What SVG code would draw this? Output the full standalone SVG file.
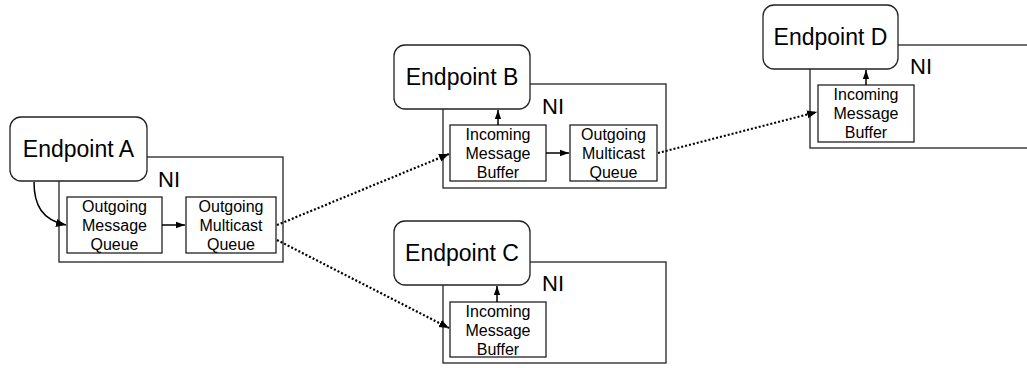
<svg xmlns="http://www.w3.org/2000/svg" width="1027" height="368" viewBox="0 0 1027 368">
<defs>
<style>
.ni{fill:none;stroke:#222;stroke-width:1.3}
.ep{fill:#fff;stroke:#222;stroke-width:1.3}
.box{fill:#fff;stroke:#222;stroke-width:1.3}
.big{font-family:"Liberation Sans",Arial,sans-serif;font-size:23px;fill:#000}
.nil{font-family:"Liberation Sans",Arial,sans-serif;font-size:22px;fill:#000}
.sm{font-family:"Liberation Sans",Arial,sans-serif;font-size:16px;fill:#000;text-anchor:middle}
.solid{fill:none;stroke:#000;stroke-width:1.5}
.dot{fill:none;stroke:#000;stroke-width:2.2;stroke-dasharray:2 2}
</style>
<marker id="ah" viewBox="0 0 10 10" refX="10" refY="5" markerWidth="10" markerHeight="10" markerUnits="userSpaceOnUse" orient="auto">
<path d="M0,1 L10,5 L0,9 z" fill="#000"/>
</marker>
<marker id="ahs" viewBox="0 0 10 10" refX="10" refY="5" markerWidth="9" markerHeight="9" markerUnits="userSpaceOnUse" orient="auto">
<path d="M0,1.5 L10,5 L0,8.5 z" fill="#000"/>
</marker>
</defs>

<g id="nodeA">
<rect class="ni" x="59" y="157" width="224" height="105"/>
<rect class="ep" x="10" y="117" width="137" height="64" rx="11"/>
<text class="big" x="78.5" y="157" text-anchor="middle">Endpoint A</text>
<text class="nil" x="158" y="187">NI</text>
<g id="A-omq">
<rect class="box" x="67" y="197" width="95" height="56"/>
<text class="sm" x="114.5" y="212">Outgoing</text>
<text class="sm" x="114.5" y="231">Message</text>
<text class="sm" x="114.5" y="250">Queue</text>
</g>
<g id="A-mcq">
<rect class="box" x="186" y="197" width="90" height="56"/>
<text class="sm" x="231" y="212">Outgoing</text>
<text class="sm" x="231" y="231">Multicast</text>
<text class="sm" x="231" y="250">Queue</text>
</g>
</g>

<g id="nodeB">
<rect class="ni" x="443" y="84" width="223" height="104"/>
<rect class="ep" x="394" y="45" width="136" height="64" rx="11"/>
<text class="big" x="462" y="85" text-anchor="middle">Endpoint B</text>
<text class="nil" x="542" y="114">NI</text>
<g id="B-imb">
<rect class="box" x="450" y="125" width="96" height="56"/>
<text class="sm" x="498" y="140">Incoming</text>
<text class="sm" x="498" y="159">Message</text>
<text class="sm" x="498" y="178">Buffer</text>
</g>
<g id="B-mcq">
<rect class="box" x="570" y="125" width="87" height="56"/>
<text class="sm" x="613.5" y="140">Outgoing</text>
<text class="sm" x="613.5" y="159">Multicast</text>
<text class="sm" x="613.5" y="178">Queue</text>
</g>
</g>

<g id="nodeC">
<rect class="ni" x="443" y="262" width="223" height="101"/>
<rect class="ep" x="394" y="221" width="136" height="64" rx="11"/>
<text class="big" x="462" y="261" text-anchor="middle">Endpoint C</text>
<text class="nil" x="542" y="291">NI</text>
<g id="C-imb">
<rect class="box" x="450" y="302" width="96" height="55"/>
<text class="sm" x="498" y="317">Incoming</text>
<text class="sm" x="498" y="336">Message</text>
<text class="sm" x="498" y="355">Buffer</text>
</g>
</g>

<g id="nodeD">
<rect class="ni" x="810" y="45" width="240" height="103"/>
<rect class="ep" x="763" y="5" width="135" height="64" rx="11"/>
<text class="big" x="830.5" y="45" text-anchor="middle">Endpoint D</text>
<text class="nil" x="910" y="74">NI</text>
<g id="D-imb">
<rect class="box" x="818" y="85" width="96" height="57"/>
<text class="sm" x="866" y="100">Incoming</text>
<text class="sm" x="866" y="119">Message</text>
<text class="sm" x="866" y="138">Buffer</text>
</g>
</g>

<g id="connectors">
<path class="solid" d="M34,182 C34,205 42,220 66,225" marker-end="url(#ah)"/>
<line class="solid" x1="162" y1="225" x2="185" y2="225" marker-end="url(#ahs)"/>
<line class="solid" x1="498" y1="125" x2="498" y2="110" marker-end="url(#ahs)"/>
<line class="solid" x1="546" y1="153" x2="569" y2="153" marker-end="url(#ahs)"/>
<line class="solid" x1="497" y1="302" x2="497" y2="286" marker-end="url(#ahs)"/>
<line class="solid" x1="866" y1="85" x2="866" y2="70" marker-end="url(#ahs)"/>
<line class="dot" x1="277" y1="225" x2="449" y2="154" marker-end="url(#ah)"/>
<line class="dot" x1="277" y1="240" x2="449" y2="328" marker-end="url(#ah)"/>
<line class="dot" x1="658" y1="153" x2="817" y2="112" marker-end="url(#ah)"/>
</g>
</svg>
